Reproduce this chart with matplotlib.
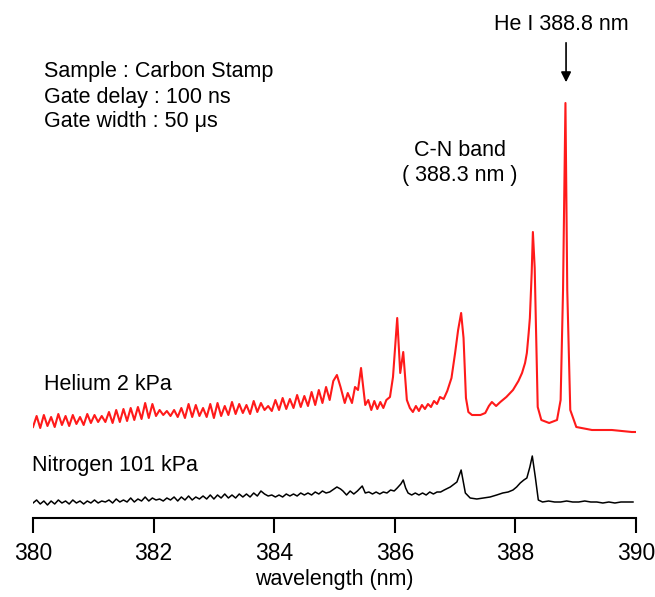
import matplotlib
matplotlib.use("Agg")
import matplotlib.pyplot as plt

plt.rcParams['font.family'] = ['Liberation Sans', 'DejaVu Sans']

# Helium 2 kPa spectrum (wavelength nm, intensity a.u.)
he_wl = [380.00, 380.06, 380.12, 380.18, 380.24, 380.30, 380.36, 380.42, 380.48, 380.54,
         380.60, 380.66, 380.72, 380.78, 380.84, 380.90, 380.96, 381.02, 381.08, 381.14,
         381.20, 381.26, 381.32, 381.38, 381.44, 381.50, 381.56, 381.62, 381.68, 381.74,
         381.80, 381.86, 381.92, 381.98, 382.04, 382.10, 382.16, 382.22, 382.28, 382.34,
         382.40, 382.46, 382.52, 382.58, 382.64, 382.70, 382.76, 382.82, 382.88, 382.94,
         383.00, 383.06, 383.12, 383.18, 383.24, 383.30, 383.36, 383.42, 383.48, 383.54,
         383.60, 383.66, 383.72, 383.78, 383.84, 383.90, 383.96, 384.02, 384.08, 384.14,
         384.20, 384.26, 384.32, 384.38, 384.44, 384.50, 384.56, 384.62, 384.68, 384.74,
         384.80, 384.86, 384.92, 384.98, 385.04, 385.10, 385.17, 385.22, 385.29, 385.34,
         385.39, 385.44, 385.51, 385.56, 385.61, 385.66, 385.71, 385.76, 385.81, 385.86,
         385.92, 385.97, 386.04, 386.09, 386.14, 386.20, 386.25, 386.30, 386.35, 386.40,
         386.45, 386.50, 386.55, 386.60, 386.65, 386.70, 386.75, 386.81, 386.87, 386.94,
         387.00, 387.05, 387.10, 387.14, 387.18, 387.22, 387.28, 387.35, 387.42, 387.50,
         387.56, 387.61, 387.68, 387.75, 387.85, 387.96, 388.05, 388.11, 388.16, 388.19,
         388.22, 388.24, 388.27, 388.29, 388.32, 388.34, 388.37, 388.43, 388.56, 388.69,
         388.75, 388.79, 388.83, 388.86, 388.91, 389.01, 389.27, 389.60, 389.93, 390.00]
he_int = [91, 102, 90, 103, 92, 101, 91, 104, 93, 102,
          92, 103, 94, 101, 93, 104, 95, 103, 96, 102,
          96, 106, 95, 108, 96, 109, 97, 110, 98, 111,
          99, 115, 100, 114, 102, 108, 103, 107, 102, 108,
          101, 110, 100, 114, 101, 113, 102, 110, 101, 114,
          100, 115, 102, 112, 103, 116, 104, 114, 105, 113,
          104, 117, 106, 115, 108, 112, 107, 118, 108, 120,
          109, 119, 110, 123, 111, 122, 112, 126, 113, 128,
          115, 131, 118, 137, 143, 131, 115, 125, 115, 131,
          128, 150, 113, 118, 108, 117, 109, 116, 110, 118,
          121, 141, 200, 145, 166, 118, 110, 106, 112, 107,
          113, 109, 114, 111, 117, 114, 121, 119, 127, 140,
          165, 188, 205, 180, 120, 106, 103, 103, 103, 105,
          112, 116, 112, 116, 121, 128, 137, 145, 155, 165,
          185, 200, 245, 286, 250, 195, 111, 98, 95, 98,
          118, 228, 415, 228, 108, 91, 88, 88, 86, 86]

# Nitrogen 101 kPa spectrum
n2_wl = [380.00, 380.06, 380.12, 380.18, 380.24, 380.30, 380.36, 380.42, 380.48, 380.54,
         380.60, 380.66, 380.72, 380.78, 380.84, 380.90, 380.96, 381.02, 381.08, 381.14,
         381.20, 381.26, 381.32, 381.38, 381.44, 381.50, 381.56, 381.62, 381.68, 381.74,
         381.80, 381.86, 381.92, 381.98, 382.04, 382.10, 382.16, 382.22, 382.28, 382.34,
         382.40, 382.46, 382.52, 382.58, 382.64, 382.70, 382.76, 382.82, 382.88, 382.94,
         383.00, 383.06, 383.12, 383.18, 383.24, 383.30, 383.36, 383.42, 383.48, 383.54,
         383.60, 383.66, 383.72, 383.78, 383.84, 383.90, 383.96, 384.02, 384.08, 384.14,
         384.20, 384.26, 384.32, 384.38, 384.44, 384.50, 384.56, 384.62, 384.68, 384.74,
         384.80, 384.86, 384.92, 385.04, 385.10, 385.14, 385.20, 385.26, 385.32, 385.38,
         385.46, 385.51, 385.57, 385.63, 385.69, 385.75, 385.81, 385.87, 385.93, 385.99,
         386.04, 386.10, 386.14, 386.18, 386.22, 386.28, 386.34, 386.40, 386.46, 386.52,
         386.58, 386.64, 386.70, 386.76, 386.82, 386.92, 387.03, 387.10, 387.13, 387.17,
         387.25, 387.36, 387.47, 387.58, 387.69, 387.79, 387.88, 387.96, 388.02, 388.08,
         388.14, 388.19, 388.24, 388.28, 388.33, 388.38, 388.45, 388.55, 388.65, 388.75,
         388.85, 388.95, 389.05, 389.15, 389.25, 389.35, 389.45, 389.55, 389.65, 389.75,
         389.85, 389.95]
n2_int = [15, 18, 14, 17, 13, 17, 14, 18, 15, 17,
          14, 18, 15, 17, 14, 17, 15, 18, 15, 17,
          16, 18, 15, 19, 16, 18, 16, 20, 16, 19,
          17, 21, 17, 20, 18, 19, 17, 20, 18, 21,
          17, 21, 18, 22, 18, 21, 19, 22, 19, 23,
          19, 23, 20, 24, 20, 23, 20, 24, 21, 24,
          21, 25, 22, 27, 24, 22, 23, 21, 23, 21,
          24, 22, 24, 22, 25, 23, 25, 23, 26, 24,
          27, 25, 26, 31, 29, 27, 23, 27, 24, 27,
          32, 25, 26, 24, 26, 24, 26, 25, 28, 27,
          30, 34, 38, 30, 25, 23, 25, 23, 25, 23,
          26, 24, 26, 26, 28, 31, 36, 48, 38, 25,
          20, 19, 20, 21, 23, 25, 26, 28, 31, 35,
          38, 40, 51, 62, 41, 18, 16, 17, 16, 16,
          17, 16, 16, 17, 16, 16, 15, 16, 15, 16,
          16, 16]

xticks = [380, 382, 384, 386, 388, 390]


def main():
    fig = plt.figure(figsize=(6.55, 5.97), dpi=100)
    ax = fig.add_axes([33 / 655, 79 / 597, 603 / 655, 518 / 597])

    ax.plot(he_wl, he_int, color='#ff1a1a', lw=1.5, solid_joinstyle='round')
    ax.plot(n2_wl, n2_int, color='black', lw=1.1, solid_joinstyle='round')

    ax.set_xlim(380, 390)
    ax.set_ylim(0, 518)
    for s in ['top', 'left', 'right']:
        ax.spines[s].set_visible(False)
    ax.spines['bottom'].set_linewidth(1.5)
    ax.set_yticks([])
    ax.set_xticks(xticks)
    ax.set_xticklabels([str(t) for t in xticks])
    ax.tick_params(axis='x', direction='out', length=11, width=1.5,
                   labelsize=16.5, pad=6)
    ax.set_xlabel('wavelength (nm)', fontsize=15.5, labelpad=3)

    fs = 15.5
    ax.text(380.18, 446, 'Sample : Carbon Stamp', fontsize=fs, va='center')
    ax.text(380.18, 421, 'Gate delay : 100 ns', fontsize=fs, va='center')
    ax.text(380.18, 396, 'Gate width : 50 \u03bcs', fontsize=fs, va='center')

    ax.text(388.76, 493, 'He I 388.8 nm', fontsize=fs, ha='center', va='center')
    ax.annotate('', xy=(388.84, 433), xytext=(388.84, 478),
                arrowprops=dict(arrowstyle='-|>', color='black', lw=1.2,
                                mutation_scale=15))
    ax.text(387.08, 368, 'C-N band', fontsize=fs, ha='center', va='center')
    ax.text(387.08, 343, '( 388.3 nm )', fontsize=fs, ha='center', va='center')

    ax.text(380.18, 133, 'Helium 2 kPa', fontsize=fs, va='center')
    ax.text(379.98, 52, 'Nitrogen 101 kPa', fontsize=fs, va='center')

    fig.savefig('out.png', dpi=100)


if __name__ == "__main__":
    main()
